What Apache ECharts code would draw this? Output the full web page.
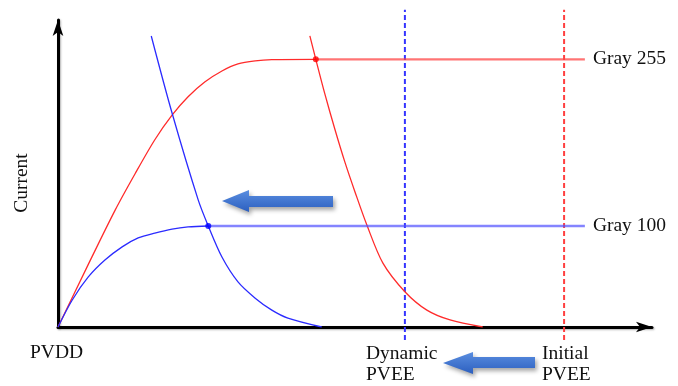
<!DOCTYPE html>
<html>
<head>
<meta charset="utf-8">
<script src="https://cdn.jsdelivr.net/npm/echarts@6/dist/echarts.min.js"></script>
<style>
  html, body { margin: 0; padding: 0; background: #fff; }
  #chart { width: 678px; height: 386px; }
</style>
</head>
<body>
<div id="chart"></div>
<script>
// curve points, [voltage, current] in arbitrary units
const gray255Rise = [[0, 0], [5, 20], [9.6, 38], [13, 50], [16.3, 61], [19.2, 69], [21.9, 75], [24.7, 79.8], [27.6, 83.4], [30.3, 85.7], [33.2, 86.7], [36, 87.1], [43.4, 87.2]];
const gray100Rise = [[0, 0], [2.4, 8.8], [5.1, 16.3], [7.9, 21.8], [10.8, 26.1], [13.5, 29], [16.3, 30.6], [19.2, 31.9], [21.9, 32.6], [25.3, 32.9]];
const dynamicLoad = [[15.7, 94.8], [19.2, 69.7], [23.6, 41.4], [25.3, 32.9], [27.6, 22.8], [30.3, 14.7], [33.2, 9.4], [36, 5.5], [38.7, 2.9], [44.4, 0]];
const initialLoad = [[42.4, 94.8], [43.4, 87.2], [44.9, 76.1], [46.6, 64.5], [48.3, 53.7], [50, 44], [52, 33.2], [54.7, 20.8], [58.4, 11.5], [62.1, 5.5], [66, 2.3], [71.5, 0]];
const gray255Level = [[43.4, 87.2], [88.7, 87.2]];
const gray100Level = [[25.3, 32.9], [88.7, 32.9]];
const operatingPoints = [[43.4, 87.2], [25.3, 32.9]];
const dynamicPvee = [[58.4, -4.2], [58.4, 103.3]];
const initialPvee = [[85.2, -4.2], [85.2, 103.3]];
const levelNames = ['Gray 255', 'Gray 100'];

const RED = '#ff2b2b';
const BLUE = '#2b2bff';
const font = '"Liberation Serif", "DejaVu Serif", serif';

const axis = {
  type: 'value',
  min: 0,
  max: 100,
  splitLine: { show: false },
  axisTick: { show: false },
  axisLabel: { show: false },
  axisLine: {
    symbol: ['none', 'arrow'],
    symbolSize: [8, 16],
    lineStyle: {
      color: '#000',
      width: 3,
      shadowColor: 'rgba(0,0,0,0.3)',
      shadowBlur: 2,
      shadowOffsetX: 1,
      shadowOffsetY: 1
    }
  }
};

const curve = {
  type: 'line',
  smooth: 0.3,
  showSymbol: false,
  silent: true,
  z: 3
};

const levelLabel = {
  show: true,
  distance: 8,
  fontFamily: font,
  fontSize: 19.5,
  color: '#111'
};

const arrowFill = new echarts.graphic.LinearGradient(0, 0, 0, 1, [
  { offset: 0, color: '#5a8ee0' },
  { offset: 1, color: '#2c5fbf' }
]);
const arrowStyle = {
  fill: arrowFill,
  shadowColor: 'rgba(0,0,0,0.35)',
  shadowBlur: 4,
  shadowOffsetX: 2,
  shadowOffsetY: 3
};
const textFont = '19.5px ' + font;

const chart = echarts.init(document.getElementById('chart'));
const option = {
  animation: false,
  grid: { left: 58, right: 26, top: 20, bottom: 59 },
  xAxis: axis,
  yAxis: axis,
  series: [
    { ...curve, data: gray255Rise, lineStyle: { color: RED, width: 1.3 } },
    { ...curve, data: gray100Rise, lineStyle: { color: BLUE, width: 1.3 } },
    { ...curve, data: dynamicLoad, lineStyle: { color: BLUE, width: 1.3 } },
    { ...curve, data: initialLoad, lineStyle: { color: RED, width: 1.3 } },
    {
      ...curve, smooth: false, data: gray255Level,
      lineStyle: { color: 'rgba(255,70,70,0.75)', width: 2.2 },
      endLabel: { ...levelLabel, formatter: levelNames[0] }
    },
    {
      ...curve, smooth: false, data: gray100Level,
      lineStyle: { color: 'rgba(80,80,255,0.7)', width: 2.6 },
      endLabel: { ...levelLabel, formatter: levelNames[1] }
    },
    {
      ...curve, smooth: false, clip: false, data: dynamicPvee, z: 2,
      lineStyle: { color: '#3535ff', width: 2, type: [5, 3] }
    },
    {
      ...curve, smooth: false, clip: false, data: initialPvee, z: 2,
      lineStyle: { color: '#ff4040', width: 2, type: [5, 3] }
    },
    {
      type: 'scatter',
      symbolSize: 6,
      silent: true,
      z: 4,
      data: operatingPoints.map((p, i) => ({ value: p, itemStyle: { color: i === 0 ? '#ff0000' : '#0000ff' } }))
    }
  ],
  graphic: [
    {
      type: 'text', x: 22, y: 183, rotation: Math.PI / 2,
      style: { text: 'Current', font: textFont, fill: '#111', align: 'center', verticalAlign: 'middle' }
    },
    {
      type: 'text', x: 30, y: 343,
      style: { text: 'PVDD', font: textFont, fill: '#111' }
    },
    {
      type: 'text', x: 366, y: 343,
      style: { text: 'Dynamic\nPVEE', font: textFont, fill: '#111', lineHeight: 21 }
    },
    {
      type: 'text', x: 542, y: 343,
      style: { text: 'Initial\nPVEE', font: textFont, fill: '#111', lineHeight: 21 }
    },
    {
      type: 'polygon',
      shape: { points: [[222, 201], [249, 190], [249, 196], [333, 196], [333, 207], [249, 207], [249, 212]] },
      style: arrowStyle
    },
    {
      type: 'polygon',
      shape: { points: [[443, 363], [473, 352], [473, 357], [535, 357], [535, 368], [473, 368], [473, 374]] },
      style: arrowStyle
    }
  ]
};
chart.setOption(option);
</script>
</body>
</html>
